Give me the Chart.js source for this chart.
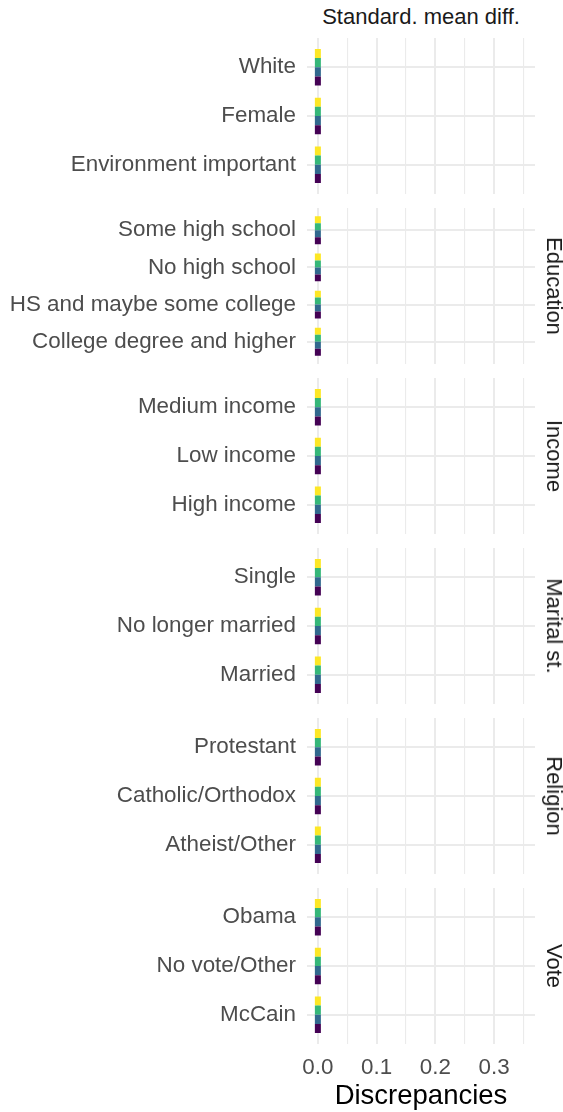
<!DOCTYPE html>
<html>
<head>
<meta charset="utf-8">
<script src="https://cdn.jsdelivr.net/npm/chart.js@4.4.1/dist/chart.umd.min.js"></script>
<style>
  html, body { margin: 0; padding: 0; background: #fff; }
  #page { position: relative; width: 563px; height: 1112px; overflow: hidden; font-family: "Liberation Sans", Arial, sans-serif; }
  .panel { position: absolute; left: 0; width: 563px; }
  .strip { position: absolute; color: #1A1A1A; font-size: 22px; white-space: nowrap; }
  .strip.right { transform: translate(-50%, -50%) rotate(90deg); }
</style>
</head>
<body>
<div id="page"></div>
<script>
// facet panels (top to bottom) and their row labels
const panelNames = ['', 'Education', 'Income', 'Marital st.', 'Religion', 'Vote'];
const generalRows = ['White', 'Female', 'Environment important'];
const educationRows = ['Some high school', 'No high school', 'HS and maybe some college', 'College degree and higher'];
const incomeRows = ['Medium income', 'Low income', 'High income'];
const maritalRows = ['Single', 'No longer married', 'Married'];
const religionRows = ['Protestant', 'Catholic/Orthodox', 'Atheist/Other'];
const voteRows = ['Obama', 'No vote/Other', 'McCain'];
const panelRows = [generalRows, educationRows, incomeRows, maritalRows, religionRows, voteRows];

// discrepancies (standardised mean difference), one value per row, all rows in order
const seriesPurple = [0, 0, 0, 0, 0, 0, 0, 0, 0, 0, 0, 0, 0, 0, 0, 0, 0, 0, 0];
const seriesBlue   = [0, 0, 0, 0, 0, 0, 0, 0, 0, 0, 0, 0, 0, 0, 0, 0, 0, 0, 0];
const seriesGreen  = [0, 0, 0, 0, 0, 0, 0, 0, 0, 0, 0, 0, 0, 0, 0, 0, 0, 0, 0];
const seriesYellow = [0, 0, 0, 0, 0, 0, 0, 0, 0, 0, 0, 0, 0, 0, 0, 0, 0, 0, 0];

const xTicks = [0, 0.05, 0.1, 0.15, 0.2, 0.25, 0.3, 0.35];
const xMajor = [0, 0.1, 0.2, 0.3];

const series = [
  { values: seriesPurple, color: '#440154' },
  { values: seriesBlue,   color: '#31688E' },
  { values: seriesGreen,  color: '#35B779' },
  { values: seriesYellow, color: '#FDE725' }
];

const FONT = '"Liberation Sans", Arial, sans-serif';
const GRID = '#EBEBEB';
const PANEL_LEFT = 307;
const PANEL_RIGHT = 535;
const PANEL_H = 156;
const PANEL_STEP = 169.9;
const FIRST_TOP = 38;
const PAD = 3;
const dodge = 0.75 / series.length;

const page = document.getElementById('page');

function isMajor(v) {
  return xMajor.some(m => Math.abs(m - v) < 1e-9);
}

function noLabelPadding(scale) {
  scale.paddingTop = 0;
  scale.paddingBottom = 0;
  scale.paddingLeft = 0;
  scale.paddingRight = 0;
}

function buildDatasets(rows, startIndex) {
  const datasets = [];
  series.forEach((s, k) => {
    // purple lowest, yellow on top
    const off = (series.length - 1) / 2 * dodge - k * dodge;
    rows.forEach((_, i) => {
      const v = s.values[startIndex + i];
      const yc = i + 1 + off;
      datasets.push({
        data: [{ x: v, y: yc - dodge / 2 }, { x: v, y: yc + dodge / 2 }],
        borderColor: s.color,
        borderWidth: 6,
        borderCapStyle: 'butt',
        pointRadius: 0,
        fill: false
      });
    });
  });
  return datasets;
}

let rowStart = 0;
panelRows.forEach((rows, p) => {
  const isLast = p === panelRows.length - 1;
  const top = FIRST_TOP + p * PANEL_STEP;
  const holder = document.createElement('div');
  holder.className = 'panel';
  holder.style.top = (top - PAD) + 'px';
  holder.style.height = (isLast ? 1112 - (top - PAD) : PANEL_H + 2 * PAD) + 'px';
  const canvas = document.createElement('canvas');
  holder.appendChild(canvas);
  page.appendChild(holder);

  new Chart(canvas, {
    type: 'line',
    data: { datasets: buildDatasets(rows, rowStart) },
    options: {
      responsive: true,
      maintainAspectRatio: false,
      animation: false,
      layout: { padding: { left: 0, right: 563 - PANEL_RIGHT, top: PAD, bottom: isLast ? 0 : PAD } },
      plugins: { legend: { display: false }, tooltip: { enabled: false } },
      scales: {
        x: {
          type: 'linear',
          min: -0.0185,
          max: 0.3695,
          display: true,
          afterBuildTicks: scale => { scale.ticks = xTicks.map(v => ({ value: v })); },
          afterFit: scale => {
            scale.height = isLast ? 1112 - (top + PANEL_H) : 0;
            noLabelPadding(scale);
          },
          grid: {
            color: GRID,
            lineWidth: ctx => (ctx.tick && isMajor(ctx.tick.value) ? 2 : 1.1),
            drawTicks: false
          },
          border: { display: false },
          ticks: {
            display: isLast,
            autoSkip: false,
            maxRotation: 0,
            padding: 10,
            color: '#4D4D4D',
            font: { family: FONT, size: 22.4 },
            callback: v => (isMajor(v) ? v.toFixed(1) : '')
          },
          title: {
            display: isLast,
            text: 'Discrepancies',
            color: '#000000',
            padding: 0,
            font: { family: FONT, size: 27.5 }
          }
        },
        y: {
          type: 'linear',
          reverse: true,
          min: 0.4,
          max: rows.length + 0.6,
          afterBuildTicks: scale => { scale.ticks = rows.map((_, i) => ({ value: i + 1 })); },
          afterFit: scale => {
            scale.width = PANEL_LEFT;
            noLabelPadding(scale);
          },
          grid: { color: GRID, lineWidth: 2, drawTicks: false },
          border: { display: false },
          ticks: {
            padding: 11,
            color: '#4D4D4D',
            font: { family: FONT, size: 22.4 },
            callback: v => rows[Math.round(v) - 1]
          }
        }
      }
    }
  });

  // strip labels
  if (panelNames[p]) {
    const strip = document.createElement('div');
    strip.className = 'strip right';
    strip.textContent = panelNames[p];
    strip.style.left = '554px';
    strip.style.top = (top + PANEL_H / 2) + 'px';
    page.appendChild(strip);
  }
  rowStart += rows.length;
});

const topStrip = document.createElement('div');
topStrip.className = 'strip';
topStrip.textContent = 'Standard. mean diff.';
topStrip.style.left = ((PANEL_LEFT + PANEL_RIGHT) / 2) + 'px';
topStrip.style.top = '17px';
topStrip.style.transform = 'translate(-50%, -50%)';
page.appendChild(topStrip);
</script>
</body>
</html>
